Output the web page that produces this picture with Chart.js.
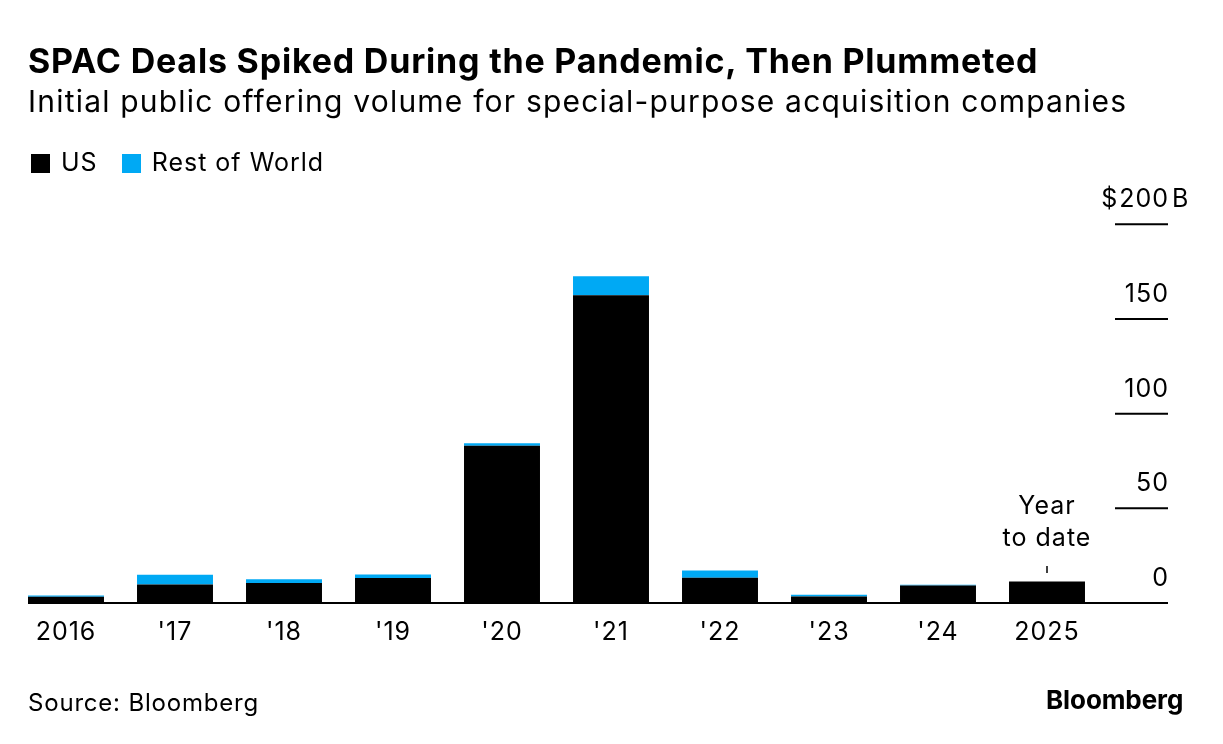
<!DOCTYPE html>
<html>
<head>
<meta charset="utf-8">
<script src="https://cdn.jsdelivr.net/npm/chart.js@4"></script>
<style>
  body { margin: 0; background: #fff; font-family: Inter, "Liberation Sans", Arial, sans-serif; }
  #wrap { position: relative; width: 1223px; height: 744px; overflow: hidden; }
  #chart { position: absolute; left: 0; top: 0; }
  .t { position: absolute; white-space: nowrap; color: #000; }
  #title { left: 28px; top: 40px; font-size: 34px; font-weight: bold; letter-spacing: 0.8px; }
  #sub { left: 28px; top: 83px; font-size: 30px; letter-spacing: 1.2px; }
  #legend { left: 31px; top: 147px; font-size: 25px; letter-spacing: 1px; }
  #legend span.sw { display: inline-block; width: 19px; height: 19px; vertical-align: -2px; margin-right: 11px; }
  #source { left: 28px; top: 688px; font-size: 24px; letter-spacing: 0.8px; }
  #logo { left: 1046px; top: 684px; font-size: 26px; font-weight: bold; letter-spacing: -0.1px; }
</style>
</head>
<body>
<div id="wrap">
  <canvas id="chart" width="1223" height="744"></canvas>
  <div class="t" id="title">SPAC Deals Spiked During the Pandemic, Then Plummeted</div>
  <div class="t" id="sub">Initial public offering volume for special-purpose acquisition companies</div>
  <div class="t" id="legend"><span class="sw" style="background:#000"></span>US<span class="sw" style="background:#00a9f4;margin-left:24px"></span>Rest of World</div>
  <div class="t" id="source">Source: Bloomberg</div>
  <div class="t" id="logo">Bloomberg</div>
</div>
<script>
// values in $ billions
const years = ['2016', "'17", "'18", "'19", "'20", "'21", "'22", "'23", "'24", '2025'];
const usVolume = [3.3, 9.8, 10.5, 13.2, 83.0, 162.5, 13.3, 3.4, 9.3, 11.4];
const restOfWorld = [0.7, 5.1, 2.1, 1.9, 1.4, 10.1, 3.8, 0.9, 0.4, 0];
const yTicks = [0, 50, 100, 150, 200];

const FONT = 'Inter, "Liberation Sans", Arial, sans-serif';

// draws the right-hand axis, baseline, year labels and the YTD note
const axisPlugin = {
    id: 'axisPlugin',
    afterDatasetsDraw(chart) {
        const c = chart.ctx;
        const x = chart.scales.x, y = chart.scales.y;
        const barHalf = 38;
        const left = x.getPixelForValue(0) - barHalf;
        const axisRight = 1168;
        c.save();
        c.fillStyle = '#000';
        c.strokeStyle = '#000';

        // baseline
        c.lineWidth = 2;
        c.beginPath();
        c.moveTo(left, y.getPixelForValue(0));
        c.lineTo(axisRight, y.getPixelForValue(0));
        c.stroke();

        // y ticks
        c.font = '25px ' + FONT;
        c.letterSpacing = '1px';
        c.textAlign = 'right';
        c.textBaseline = 'alphabetic';
        yTicks.forEach(v => {
            const py = y.getPixelForValue(v);
            if (v > 0) {
                c.beginPath();
                c.moveTo(1115, py);
                c.lineTo(axisRight, py);
                c.stroke();
            }
            c.fillText(String(v), axisRight + 1, py - 17);
            if (v === 200) {
                const w = c.measureText('200').width;
                c.fillText('$', axisRight - w, py - 17);
                c.textAlign = 'left';
                c.fillText('B', axisRight + 4, py - 17);
                c.textAlign = 'right';
            }
        });

        // x labels
        c.textAlign = 'center';
        c.textBaseline = 'middle';
        years.forEach((lab, i) => {
            c.fillText(lab, x.getPixelForValue(i), 632);
        });

        // year to date note
        const px = x.getPixelForValue(years.length - 1);
        c.fillText('Year', px, 506);
        c.fillText('to date', px, 538);
        c.lineWidth = 1.5;
        c.beginPath();
        c.moveTo(px, 566);
        c.lineTo(px, 573);
        c.stroke();
        c.restore();
    }
};

new Chart(document.getElementById('chart').getContext('2d'), {
    type: 'bar',
    data: {
        labels: years,
        datasets: [
            { label: 'US', data: usVolume, backgroundColor: '#000000' },
            { label: 'Rest of World', data: restOfWorld, backgroundColor: '#00a9f4' }
        ]
    },
    options: {
        responsive: false,
        animation: false,
        devicePixelRatio: 1,
        layout: { padding: { left: 11.5, right: 121.5, top: 224.3, bottom: 141 } },
        datasets: { bar: { categoryPercentage: 1, barPercentage: 0.697 } },
        plugins: { legend: { display: false }, tooltip: { enabled: false } },
        scales: {
            x: { stacked: true, display: false },
            y: { stacked: true, display: false, min: 0, max: 200 }
        }
    },
    plugins: [axisPlugin]
});
</script>
</body>
</html>
